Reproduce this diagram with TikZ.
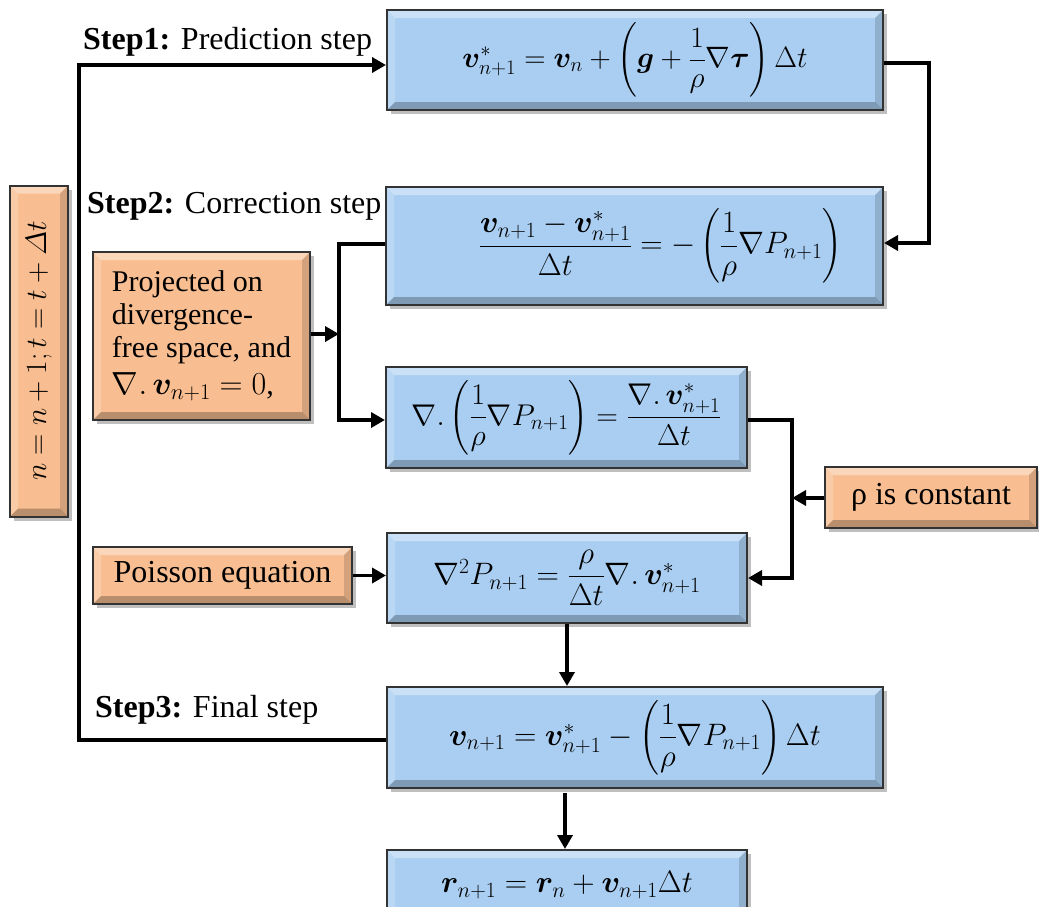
\RequirePackage{fix-cm}
\documentclass[tikz,border=0pt]{standalone}
\usepackage{amsmath}
\usepackage{bm}
\usepackage[no-math]{fontspec}
\setmainfont{Liberation Serif}
\usetikzlibrary{arrows.meta,shadows,calc}
\definecolor{boxblue}{RGB}{169,206,241}
\definecolor{boxorange}{RGB}{248,190,145}
\newcommand\bevelfx{%
  \fill[white,opacity=.38] (path picture bounding box.north west) -- (path picture bounding box.north east)
     -- ([xshift=-8pt,yshift=-8pt]path picture bounding box.north east) -- ([xshift=8pt,yshift=-8pt]path picture bounding box.north west) -- cycle;
  \fill[white,opacity=.2] (path picture bounding box.north west) -- ([xshift=8pt,yshift=-8pt]path picture bounding box.north west)
     -- ([xshift=8pt,yshift=8pt]path picture bounding box.south west) -- (path picture bounding box.south west) -- cycle;
  \fill[black,opacity=.25] (path picture bounding box.south west) -- ([xshift=8pt,yshift=8pt]path picture bounding box.south west)
     -- ([xshift=-8pt,yshift=8pt]path picture bounding box.south east) -- (path picture bounding box.south east) -- cycle;
  \fill[black,opacity=.15] (path picture bounding box.south east) -- ([xshift=-8pt,yshift=8pt]path picture bounding box.south east)
     -- ([xshift=-8pt,yshift=-8pt]path picture bounding box.north east) -- (path picture bounding box.north east) -- cycle;
}
\tikzset{
  basebox/.style={draw=black!80, line width=2pt, inner sep=0pt, align=center,
    path picture={\bevelfx},
    drop shadow={shadow xshift=4pt, shadow yshift=-4pt, opacity=.25, fill=black}},
  bluebox/.style={basebox, fill=boxblue, font=\fontsize{31}{36}\selectfont},
  orangebox/.style={basebox, fill=boxorange, font=\fontsize{32}{38}\selectfont},
  conn/.style={line width=3.5pt, -{Triangle[length=14pt,width=15pt]}},
  steplbl/.style={anchor=base west, inner sep=0pt, font=\fontsize{32}{38}\selectfont}
}
\begin{document}
\begin{tikzpicture}[x=1pt,y=-1pt]
\useasboundingbox (0,0) rectangle (1039,907);

% blue equation boxes
\node[bluebox, minimum width=496pt, minimum height=100pt, font=\fontsize{29.5}{34}\selectfont] (b1) at (635,60)
  {$\bm{v}^*_{n+1} = \bm{v}_n + \left(\bm{g} + \dfrac{1}{\rho}\nabla\bm{\tau}\right)\Delta t$};
\node[bluebox, minimum width=497pt, minimum height=118pt] (b2) at (634.5,246)
  {\hspace*{52pt}$\dfrac{\bm{v}_{n+1} - \bm{v}^*_{n+1}}{\Delta t} = -\left(\dfrac{1}{\rho}\nabla P_{n+1}\right)$};
\node[bluebox, minimum width=361pt, minimum height=101pt, font=\fontsize{30}{36}\selectfont] (b3) at (566.5,417.5)
  {$\nabla.\left(\dfrac{1}{\rho}\nabla P_{n+1}\right) = \dfrac{\nabla.\,\bm{v}^*_{n+1}}{\Delta t}$};
\node[bluebox, minimum width=360pt, minimum height=90pt] (b4) at (567,578)
  {$\nabla^2 P_{n+1} = \dfrac{\rho}{\Delta t}\nabla.\,\bm{v}^*_{n+1}$};
\node[bluebox, minimum width=496pt, minimum height=101pt] (b5) at (635,737.5)
  {$\bm{v}_{n+1} = \bm{v}^*_{n+1} - \left(\dfrac{1}{\rho}\nabla P_{n+1}\right)\Delta t$};
\node[bluebox, minimum width=360pt, minimum height=70pt] (b6) at (567,885)
  {$\bm{r}_{n+1} = \bm{r}_n + \bm{v}_{n+1}\Delta t$};

% orange boxes
\node[orangebox, minimum width=58pt, minimum height=331pt, font=\fontsize{29.5}{34}\selectfont] (vert) at (39,351)
  {\rotatebox{90}{$n = n+1; t = t+\varDelta t$}};
\node[orangebox, minimum width=217pt, minimum height=168pt, align=left, font=\fontsize{30}{33}\selectfont] (proj) at (201.5,336)
  {Projected on\\divergence-\\free space, and\\[4pt]{\fontsize{32}{34}\selectfont$\nabla.\,\bm{v}_{n+1} = 0$},};
\node[orangebox, minimum width=259pt, minimum height=57pt] (poisson) at (222.5,575.5) {Poisson equation};
\node[orangebox, minimum width=212pt, minimum height=61pt] (rho) at (931,497.5) {ρ is constant};

% step labels
\node[steplbl] (s1) at (83,50) {\textbf{Step1:} Prediction step};
\node[steplbl] (s2) at (87,213) {\textbf{Step2:} Correction step};
\node[steplbl] (s3) at (95,717) {\textbf{Step3:} Final step};

% connector corners
\coordinate (lp1) at (79,740);
\coordinate (lp2) at (79,65);
\coordinate (c1) at (929,63);
\coordinate (c2) at (929,243);
\coordinate (c3) at (339,244);
\coordinate (c4) at (339,420);
\coordinate (j1) at (339,334);
\coordinate (c5) at (792,420);
\coordinate (c6) at (792,578);
\coordinate (j2) at (792,498);
\coordinate (c7) at (565,793);

% connectors
\draw[conn] (b5.west |- lp1) -- (lp1) -- (lp2) -- (b1.west |- lp2);
\draw[conn] (b1.east |- c1) -- (c1) -- (c2) -- (b2.east |- c2);
\draw[conn] (b2.west |- c3) -- (c3) -- (c4) -- (b3.west |- c4);
\draw[conn] (proj.east |- j1) -- (j1);
\draw[conn] (b3.east |- c5) -- (c5) -- (c6) -- (b4.east |- c6);
\draw[conn] (rho.west |- j2) -- (j2);
\draw[conn] (poisson.east) -- (b4.west |- poisson.east);
\draw[conn] (b4.south) -- (b4.south |- b5.north);
\draw[conn] (c7) -- (c7 |- b6.north);
\end{tikzpicture}
\end{document}
